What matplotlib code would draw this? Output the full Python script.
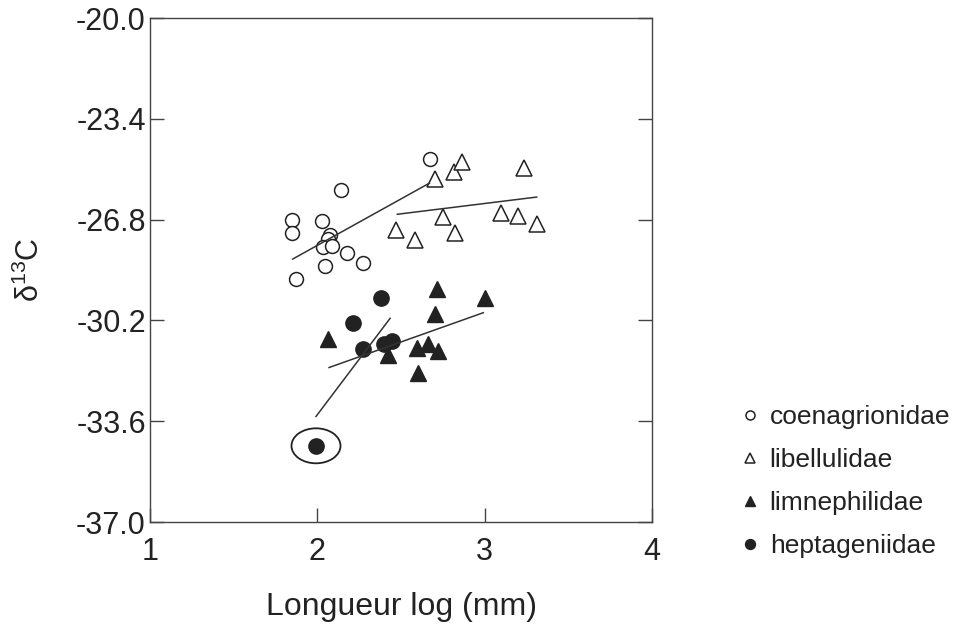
import matplotlib
matplotlib.use('Agg')
import matplotlib.pyplot as plt
from matplotlib.patches import Ellipse

plt.rcParams['font.family'] = ['Liberation Sans', 'DejaVu Sans']
plt.rcParams['mathtext.fontset'] = 'custom'
plt.rcParams['mathtext.rm'] = 'Liberation Sans'

# coenagrionidae (cercles vides)
coen_x = [1.847, 1.847, 2.026, 2.140, 2.674, 2.076, 2.066, 2.036, 2.086, 2.179, 2.271, 2.048, 1.873]
coen_y = [-26.80, -27.24, -26.86, -25.79, -24.76, -27.31, -27.44, -27.72, -27.70, -27.92, -28.28, -28.35, -28.80]
coen_fit_x = [1.853, 2.670]
coen_fit_y = [-28.13, -25.57]

# libellulidae (triangles vides)
lib_x = [2.704, 2.817, 2.865, 3.236, 2.753, 3.096, 3.200, 3.311, 2.470, 2.582, 2.824]
lib_y = [-25.43, -25.18, -24.87, -25.07, -26.71, -26.58, -26.67, -26.96, -27.14, -27.50, -27.25]
lib_fit_x = [2.478, 3.311]
lib_fit_y = [-26.62, -26.04]

# limnephilidae (triangles pleins)
lim_x = [2.714, 3.001, 2.704, 2.062, 2.594, 2.663, 2.720, 2.424, 2.604]
lim_y = [-29.13, -29.44, -29.97, -30.84, -31.12, -30.98, -31.24, -31.37, -31.96]
lim_fit_x = [2.070, 2.992]
lim_fit_y = [-31.79, -29.94]

# heptageniidae (cercles pleins)
hep_x = [2.379, 2.212, 2.275, 2.399, 2.445, 1.992]
hep_y = [-29.46, -30.28, -31.15, -30.98, -30.88, -34.43]
hep_fit_x = [1.992, 2.435]
hep_fit_y = [-33.44, -30.13]

x_ticks = [1, 2, 3, 4]
y_ticks = [-37.0, -33.6, -30.2, -26.8, -23.4, -20.0]

ink = '#222222'

fig = plt.figure(figsize=(9.57, 6.24), dpi=100)
ax = fig.add_axes([150 / 957, 1 - 522 / 624, 502 / 957, 504 / 624])

ax.plot(coen_x, coen_y, 'o', ms=10, mfc='white', mec=ink, mew=1.1, ls='none', label='coenagrionidae')
ax.plot(lib_x, lib_y, '^', ms=11, mfc='white', mec=ink, mew=1.1, ls='none', label='libellulidae')
ax.plot(lim_x, lim_y, '^', ms=11, mfc=ink, mec=ink, ls='none', label='limnephilidae')
ax.plot(hep_x, hep_y, 'o', ms=11, mfc=ink, mec=ink, ls='none', label='heptageniidae')

for fx, fy in [(coen_fit_x, coen_fit_y), (lib_fit_x, lib_fit_y),
               (lim_fit_x, lim_fit_y), (hep_fit_x, hep_fit_y)]:
    ax.plot(fx, fy, '-', color='#333333', lw=1.1)

# point aberrant entouré
ax.add_patch(Ellipse((hep_x[-1], hep_y[-1]), 0.293, 1.18, fill=False, ec=ink, lw=1.3))

ax.set_xlim(1, 4)
ax.set_ylim(-37, -20)
ax.set_xticks(x_ticks)
ax.set_xticklabels([str(v) for v in x_ticks])
ax.set_yticks(y_ticks)
ax.set_yticklabels([f'{v:.1f}' for v in y_ticks])
ax.tick_params(axis='both', direction='in', length=10, width=1, color='#444444',
               labelsize=22, labelcolor=ink)
ax.tick_params(axis='y', right=True, pad=3)
ax.tick_params(axis='x', pad=11)
for s in ax.spines.values():
    s.set_linewidth(1.0)
    s.set_color('#444444')

ax.set_xlabel('Longueur log (mm)', fontsize=23, color=ink, labelpad=18)
ax.set_ylabel('δ$^{13}$C', fontsize=22, color=ink, labelpad=22)

handles = ax.get_lines()[:4]
leg = ax.legend(handles=handles, loc='upper left', bbox_to_anchor=(742 / 957, 1 - 405 / 624),
                bbox_transform=fig.transFigure, frameon=False, fontsize=19,
                markerscale=0.65, handlelength=0.6, handletextpad=0.45,
                labelspacing=0.72, borderpad=0, borderaxespad=0)
for t in leg.get_texts():
    t.set_color(ink)

fig.savefig('out.png', dpi=100)
